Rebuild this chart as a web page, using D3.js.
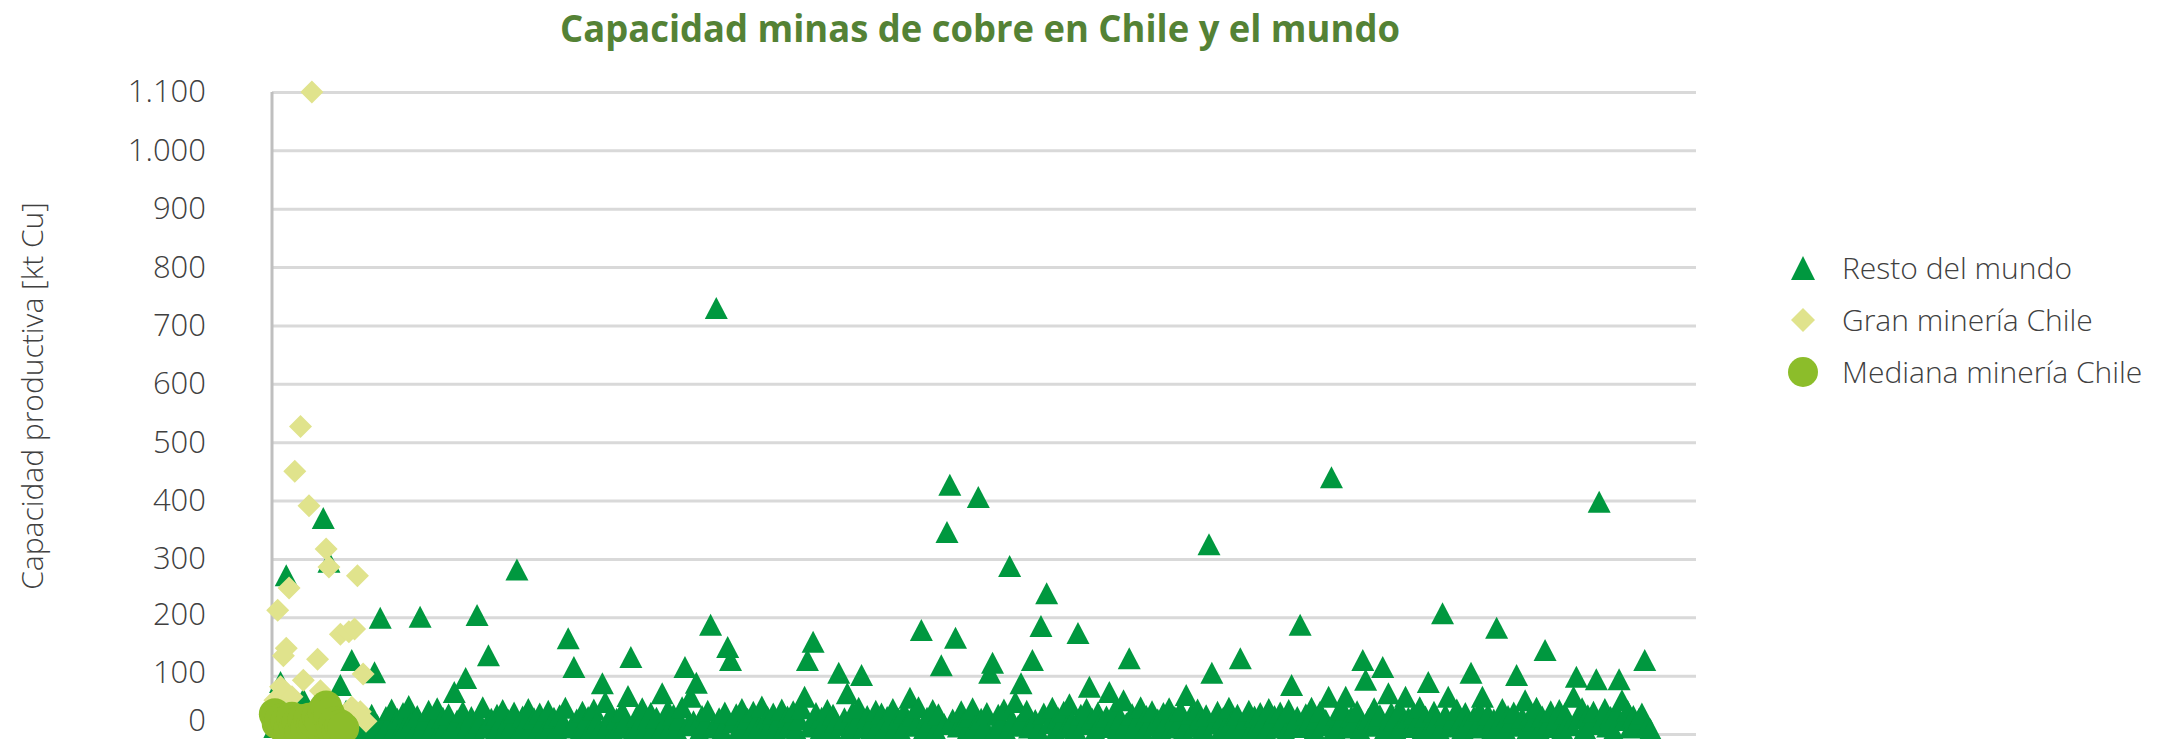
<!DOCTYPE html>
<html>
<head>
<meta charset="utf-8">
<script src="https://d3js.org/d3.v7.min.js"></script>
<style>
    body { margin: 0; background: #fff; }
    text { font-family: "Open Sans", sans-serif; }
</style>
</head>
<body>
<svg id="chart" width="2179" height="739"></svg>
<script>
// capacidad productiva [kt Cu], x = posicion de la mina en la serie (1..n)
var restoMundo = [
    12, 30, 89, 75, 272, 8, 18, 55, 22, 5, 60, 14, 28, 9, 35, 16, 4, 370, 25, 295,
    10, 32, 6, 84, 20, 40, 13, 127, 3, 24, 38, 11, 27, 7, 33, 106, 15, 199, 2, 29,
    18, 42, 9, 26, 5, 36, 14, 48, 21, 3, 31, 201, 12, 25, 40, 8, 19, 44, 6, 28,
    15, 34, 10, 72, 23, 4, 38, 96, 16, 29, 7, 204, 20, 46, 11, 135, 26, 2, 33, 17,
    41, 9, 24, 13, 37, 282, 5, 30, 19, 43, 12, 27, 3, 35, 22, 8, 40, 15, 28, 6,
    32, 18, 45, 164, 11, 115, 25, 4, 38, 14, 29, 9, 42, 20, 7, 87, 55, 16, 34, 3,
    26, 12, 39, 21, 65, 132, 8, 30, 17, 44, 5, 24, 36, 10, 28, 2, 70, 19, 41, 13,
    33, 7, 25, 46, 115, 15, 64, 22, 88, 4, 31, 18, 40, 187, 11, 730, 27, 6, 37, 149,
    127, 20, 34, 9, 43, 14, 26, 3, 38, 21, 12, 47, 8, 29, 16, 35, 5, 24, 42, 11,
    30, 17, 39, 6, 25, 44, 64, 127, 13, 158, 36, 2, 28, 19, 41, 10, 33, 22, 105, 15,
    27, 70, 8, 38, 18, 45, 101, 12, 31, 4, 24, 40, 16, 35, 7, 29, 21, 43, 11, 26,
    3, 37, 19, 62, 32, 14, 46, 178, 9, 28, 22, 41, 6, 34, 118, 17, 346, 427, 25, 165,
    13, 39, 20, 5, 30, 44, 15, 406, 26, 10, 36, 105, 122, 8, 33, 18, 42, 2, 288, 23,
    55, 14, 87, 29, 40, 11, 127, 24, 7, 185, 35, 241, 19, 45, 4, 28, 16, 38, 12, 51,
    22, 9, 173, 33, 17, 43, 81, 26, 5, 37, 20, 12, 30, 72, 15, 41, 8, 27, 58, 18,
    130, 34, 10, 24, 46, 3, 31, 19, 39, 14, 25, 7, 36, 21, 44, 11, 29, 16, 40, 6,
    67, 23, 35, 13, 42, 27, 9, 32, 325, 105, 18, 38, 4, 28, 15, 45, 21, 10, 33, 130,
    17, 26, 40, 8, 30, 14, 36, 22, 5, 43, 19, 31, 11, 37, 25, 2, 41, 84, 16, 29,
    187, 12, 34, 20, 45, 7, 27, 38, 15, 24, 64, 440, 9, 33, 18, 42, 64, 11, 30, 21,
    39, 6, 127, 93, 26, 14, 44, 19, 32, 115, 10, 70, 36, 23, 3, 41, 17, 64, 28, 12,
    35, 20, 46, 8, 30, 89, 15, 38, 24, 5, 207, 33, 64, 13, 27, 42, 18, 9, 36, 22,
    105, 29, 11, 40, 64, 16, 34, 4, 25, 182, 19, 43, 7, 31, 21, 37, 101, 14, 28, 58,
    10, 33, 23, 45, 6, 30, 144, 18, 39, 12, 26, 41, 8, 35, 20, 15, 64, 98, 27, 44,
    9, 32, 17, 38, 94, 398, 22, 43, 13, 29, 5, 36, 94, 58, 24, 40, 11, 31, 19, 26,
    35, 127, 14, 8
];
var granMineria = [58, 212, 81, 134, 147, 250, 64, 450, 30, 527, 92, 20, 391, 1100, 25, 128, 74,
    10, 317, 286, 40, 18, 35, 171, 12, 8, 175, 46, 180, 271, 38, 103, 22];
var medianaMineria = [34, 18, 25, 12, 22, 8, 28, 15, 20, 5, 24, 10, 26, 14, 18, 30, 22, 40, 47,
    35, 12, 20, 6, 15, 10];
var yTicks = [0, 100, 200, 300, 400, 500, 600, 700, 800, 900, 1000, 1100];
var seriesNames = ['Resto del mundo', 'Gran minería Chile', 'Mediana minería Chile'];
var seriesColors = ['#00983f', '#e0e38c', '#8cbd2a'];

var svg = d3.select('#chart'),
    plotLeft = 272, plotRight = 1696, plotTop = 92, plotBottom = 734;

var x = d3.scaleLinear().domain([0, 500]).range([plotLeft, plotRight]),
    y = d3.scaleLinear().domain([0, 1100]).range([plotBottom, plotTop]);

var esLocale = d3.formatLocale({decimal: ',', thousands: '.', grouping: [3], currency: ['$', '']}),
    fmt = esLocale.format(',d');

function trianglePath(w, h) {
    return 'M0,' + (-h / 2) + 'L' + (w / 2) + ',' + (h / 2) + 'L' + (-w / 2) + ',' + (h / 2) + 'Z';
}
function diamondPath(w, h) {
    return 'M0,' + (-h / 2) + 'L' + (w / 2) + ',0L0,' + (h / 2) + 'L' + (-w / 2) + ',0Z';
}

// title
svg.append('text')
    .attr('x', 980).attr('y', 42)
    .attr('text-anchor', 'middle')
    .attr('textLength', 840).attr('lengthAdjust', 'spacingAndGlyphs')
    .style('font-size', '37px').style('font-weight', 700)
    .style('fill', '#548235')
    .text('Capacidad minas de cobre en Chile y el mundo');

// gridlines + y axis
var yAxis = d3.axisLeft(y).tickValues(yTicks).tickFormat(fmt)
    .tickSize(-(plotRight - plotLeft)).tickPadding(66);

var gAxis = svg.append('g')
    .attr('transform', 'translate(' + plotLeft + ',0)')
    .call(yAxis);
gAxis.select('.domain').remove();
gAxis.selectAll('.tick line').attr('stroke', '#d9d9d9').attr('stroke-width', 3);
// bottom labels are nudged up (the picture is cut just under the 0 line)
gAxis.selectAll('.tick text')
    .attr('y', function (d) { return d === 0 ? -13 : (d <= 200 ? -3 : 0); })
    .style('font-size', '31px').style('font-weight', 300)
    .style('fill', '#404040').style('font-family', '"Open Sans", sans-serif');

svg.append('line')
    .attr('x1', plotLeft).attr('x2', plotLeft)
    .attr('y1', plotTop).attr('y2', plotBottom)
    .attr('stroke', '#bfbfbf').attr('stroke-width', 3);

svg.append('text')
    .attr('transform', 'translate(43,' + ((plotTop + plotBottom) / 2 - 17) + ') rotate(-90)')
    .attr('text-anchor', 'middle')
    .style('font-size', '30px').style('font-weight', 300)
    .style('fill', '#404040')
    .text('Capacidad productiva [kt Cu]');

// series (drawn in legend order, later ones on top)
svg.append('g').selectAll('path')
    .data(restoMundo).enter().append('path')
    .attr('d', trianglePath(23, 22))
    .attr('transform', function (d, i) { return 'translate(' + x(i + 1) + ',' + y(d) + ')'; })
    .attr('fill', seriesColors[0]);

svg.append('g').selectAll('path')
    .data(granMineria).enter().append('path')
    .attr('d', diamondPath(23, 23))
    .attr('transform', function (d, i) { return 'translate(' + x(i + 1) + ',' + y(d) + ')'; })
    .attr('fill', seriesColors[1]);

svg.append('g').selectAll('circle')
    .data(medianaMineria).enter().append('circle')
    .attr('cx', function (d, i) { return x(i + 1); })
    .attr('cy', function (d) { return y(d); })
    .attr('r', 16)
    .attr('fill', seriesColors[2]);

// legend
var legend = svg.append('g').attr('transform', 'translate(1803,0)'),
    legendRows = [268, 320, 372];

legend.selectAll('.lg-mark')
    .data(seriesNames).enter().append('path')
    .attr('class', 'lg-mark')
    .attr('transform', function (d, i) { return 'translate(0,' + legendRows[i] + ')'; })
    .attr('d', function (d, i) {
        if (i === 0) return trianglePath(24, 24);
        if (i === 1) return diamondPath(24, 24);
        return d3.symbol().type(d3.symbolCircle).size(Math.PI * 15 * 15)();
    })
    .attr('fill', function (d, i) { return seriesColors[i]; });

legend.selectAll('.lg-text')
    .data(seriesNames).enter().append('text')
    .attr('class', 'lg-text')
    .attr('x', 39)
    .attr('y', function (d, i) { return legendRows[i] + 11; })
    .style('font-size', '30px').style('font-weight', 300)
    .style('fill', '#404040')
    .text(function (d) { return d; });
</script>
</body>
</html>
